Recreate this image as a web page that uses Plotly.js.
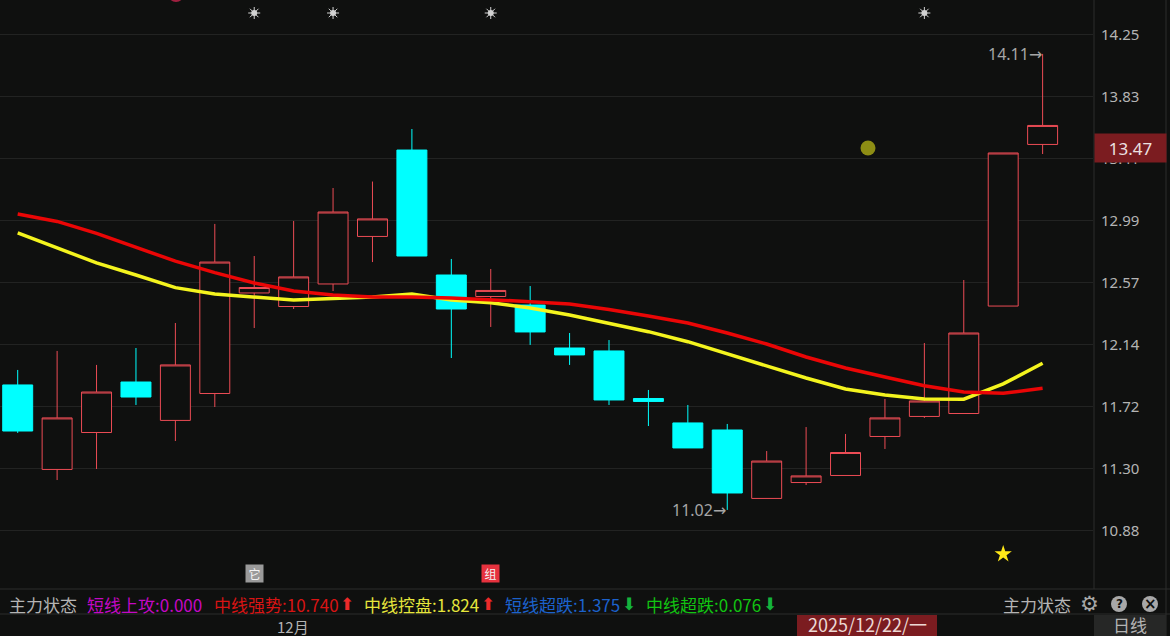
<!DOCTYPE html>
<html><head><meta charset="utf-8">
<script src="https://cdn.plot.ly/plotly-3.0.1.min.js"></script>
<style>html,body{margin:0;padding:0;background:#0f100f;overflow:hidden}#c{width:1170px;height:636px}</style>
</head><body><div id="c"></div>
<script>
const candleIndex=[0,1,2,3,4,5,6,7,8,9,10,11,12,13,14,15,16,17,18,19,20,21,22,23,24,25,26];
const openVals=[11.869,11.295,11.546,11.889,11.628,11.811,12.494,12.402,12.555,12.878,13.465,12.616,12.470,12.412,12.120,12.100,11.777,11.611,11.563,11.098,11.206,11.254,11.519,11.655,11.675,12.405,13.503];
const closeVals=[11.556,11.645,11.821,11.787,12.005,12.704,12.531,12.603,13.044,12.997,12.745,12.385,12.511,12.229,12.073,11.767,11.757,11.441,11.135,11.352,11.251,11.410,11.645,11.760,12.222,13.445,13.632];
const highVals=[11.971,12.100,12.005,12.120,12.290,12.963,12.745,12.983,13.207,13.251,13.608,12.725,12.657,12.541,12.222,12.174,11.835,11.733,11.604,11.420,11.583,11.536,11.774,12.154,12.582,13.445,14.118];
const lowVals=[11.543,11.223,11.298,11.733,11.488,11.719,12.256,12.385,12.507,12.704,12.745,12.052,12.263,12.141,12.005,11.733,11.590,11.441,11.020,11.098,11.189,11.254,11.434,11.645,11.675,12.405,13.438];
const redLine=[13.031,12.980,12.899,12.806,12.710,12.632,12.562,12.507,12.480,12.467,12.467,12.460,12.450,12.435,12.419,12.382,12.338,12.290,12.222,12.147,12.059,11.984,11.923,11.864,11.821,11.812,11.846];
const yellowLine=[12.903,12.800,12.698,12.616,12.530,12.487,12.465,12.446,12.456,12.467,12.487,12.446,12.428,12.392,12.344,12.290,12.231,12.163,12.079,11.998,11.916,11.842,11.801,11.774,11.772,11.876,12.016];
const tickVals=[14.25,13.829,13.408,12.986,12.565,12.144,11.722,11.301,10.880];
const tickLabels=["14.25","13.83","13.41","12.99","12.57","12.14","11.72","11.30","10.88"];
const sunIdx=[6,8,12,23];
const sunY=[14.396,14.396,14.396,14.396];
const dotX=[21.57], dotY=[13.479];
const starX=[25], starY=[10.72];
const lastPrice=13.47;

const CJK='"Noto Sans CJK SC","Noto Sans",sans-serif';
const X=v=>v/1170, Y=v=>1-v/636;
const BG='#0f100f', GRID='#222322', GREY='#b4b4b4', RED='#ec4c55', CY='#00ffff', BAD='#7b1c20';

const legend=[
 ["主力状态",7.5,GREY],["短线上攻:0.000",85.5,'#c408c4'],["中线强势:10.740",212.5,'#d81414'],
 ["中线控盘:1.824",362.5,'#e6e63c'],["短线超跌:1.375",503.5,'#1c62cc'],["中线超跌:0.076",644.5,'#12c412'],["主力状态",1001.5,GREY]
];
const arrows=[["⬆",347,'#ee2a2a'],["⬆",488,'#ee2a2a'],["⬇",629,'#14b43c'],["⬇",770,'#14b43c']];

const ann=[];
legend.forEach(l=>ann.push({xref:'paper',yref:'paper',x:X(l[1]),y:Y(604),xanchor:'left',yanchor:'middle',text:l[0],showarrow:false,borderpad:0,font:{family:CJK,size:17,color:l[2]}}));
arrows.forEach(a=>ann.push({xref:'paper',yref:'paper',x:X(a[1]),y:Y(604),xanchor:'center',yanchor:'middle',text:a[0],showarrow:false,borderpad:0,font:{family:'DejaVu Sans',size:17,color:a[2]}}));
const arrowGlyph='<span style="font-family:DejaVu Sans">→</span>';
[["14.11",26,highVals[26]],["11.02",18,lowVals[18]]].forEach(t=>ann.push({xref:'x',yref:'y',x:t[1],y:t[2],xanchor:'right',yanchor:'middle',xshift:0,text:t[0]+arrowGlyph,showarrow:false,borderpad:0,font:{family:'"Noto Sans",sans-serif',size:16,color:'#a6a6a6'}}));
// price flag
ann.push({xref:'paper',yref:'y',x:X(1130.5),y:lastPrice,yshift:1,xanchor:'center',yanchor:'middle',text:String(lastPrice.toFixed(2)),showarrow:false,width:71,height:28,bgcolor:BAD,borderpad:0,font:{family:'"Noto Sans",sans-serif',size:17,color:'#ece0e0'}});
// badges
[["它",6,'#9a9a9a'],["组",12,'#e6323e']].forEach(b=>ann.push({xref:'x',yref:'y',x:b[1],y:10.591,xanchor:'center',yanchor:'middle',text:b[0],showarrow:false,width:17,height:17,bgcolor:b[2],borderpad:0,font:{family:CJK,size:12,color:'#f2f2f2'}}));
// bottom strip
ann.push({xref:'x',yref:'paper',x:7,y:Y(626),xshift:-1,xanchor:'center',yanchor:'middle',text:'12月',showarrow:false,borderpad:0,font:{family:CJK,size:15,color:GREY}});
ann.push({xref:'paper',yref:'paper',x:X(867),y:Y(624),xanchor:'center',yanchor:'middle',text:'2025/12/22/一',showarrow:false,borderpad:0,font:{family:CJK,size:18,color:'#ecd8d4'}});
ann.push({xref:'paper',yref:'paper',x:X(1129.5),y:Y(624.5),xanchor:'center',yanchor:'middle',text:'日线',showarrow:false,borderpad:0,font:{family:CJK,size:17,color:GREY}});
// tool icons
ann.push({xref:'paper',yref:'paper',x:X(1089),y:Y(604),xanchor:'center',yanchor:'middle',text:'<b>⚙</b>',showarrow:false,borderpad:0,font:{family:'DejaVu Sans',size:21,color:'#a8a8a8'}});
ann.push({xref:'paper',yref:'paper',x:X(1119),y:Y(604),xanchor:'center',yanchor:'middle',text:'<b>?</b>',showarrow:false,borderpad:0,font:{family:'DejaVu Sans',size:12,color:BG}});
ann.push({xref:'paper',yref:'paper',x:X(1150),y:Y(604),xanchor:'center',yanchor:'middle',text:'<b>×</b>',showarrow:false,borderpad:0,font:{family:'DejaVu Sans',size:15,color:BG}});

const pLine=(x0,y0,x1,y1,c)=>({type:'line',xref:'paper',yref:'paper',x0:X(x0),y0:Y(y0),x1:X(x1),y1:Y(y1),line:{color:c||GRID,width:1},layer:'below'});
const circ=(cx,cy,r,c)=>({type:'circle',xref:'paper',yref:'paper',x0:X(cx-r),x1:X(cx+r),y0:Y(cy+r),y1:Y(cy-r),fillcolor:c,line:{width:0},layer:'below'});
const pRect=(x0,y0,x1,y1,c)=>({type:'rect',xref:'paper',yref:'paper',x0:X(x0),x1:X(x1),y0:Y(y1),y1:Y(y0),fillcolor:c,line:{width:0},layer:'below'});
const shapes=[
 pLine(0,589,1170,589,'#2c2d2c'),pLine(0,614,1170,614,'#2c2d2c'),
 pLine(1094,0,1094,589,'#2c2d2c'),pLine(1166,0,1166,636,'#2c2d2c'),
 pRect(797,615,937,636,BAD),pRect(1094,615,1166,636,'#262726'),
 circ(1119,604,8,'#a8a8a8'),circ(1150,604,8,'#a8a8a8'),
 circ(176,-6,8,'#a02040')
];

const traces=[
 {type:'candlestick',x:candleIndex,open:openVals,high:highVals,low:lowVals,close:closeVals,whiskerwidth:0,
  increasing:{line:{color:RED,width:1},fillcolor:BG},decreasing:{line:{color:CY,width:1},fillcolor:CY},hoverinfo:'skip'},
 {type:'scatter',mode:'lines',x:candleIndex,y:yellowLine,line:{color:'#f4f41e',width:3.5},hoverinfo:'skip'},
 {type:'scatter',mode:'lines',x:candleIndex,y:redLine,line:{color:'#ea0606',width:3.5},hoverinfo:'skip'},
 {type:'scatter',mode:'markers',x:sunIdx,y:sunY,marker:{symbol:'circle',size:6,color:'#d2d2d2'},hoverinfo:'skip'},
 {type:'scatter',mode:'markers',x:sunIdx,y:sunY,marker:{symbol:'asterisk-open',size:10,color:'#d2d2d2',line:{color:'#d2d2d2',width:1}},hoverinfo:'skip'},
 {type:'scatter',mode:'markers',x:dotX,y:dotY,marker:{symbol:'circle',size:15,color:'#8d8d14'},hoverinfo:'skip'},
 {type:'scatter',mode:'markers',x:starX,y:starY,marker:{symbol:'star',size:13,color:'#ffe818'},hoverinfo:'skip'}
];
const layout={
 width:1170,height:636,margin:{l:0,r:0,t:0,b:0},paper_bgcolor:BG,plot_bgcolor:BG,showlegend:false,boxgap:0.24,boxgroupgap:0,
 xaxis:{domain:[0,1093/1170],range:[-0.449,27.278],showgrid:false,zeroline:false,showticklabels:false,ticks:'',showline:false,rangeslider:{visible:false},fixedrange:true},
 yaxis:{domain:[47/636,630/636],range:[10.4827,14.4436],side:'right',tickmode:'array',tickvals:tickVals,ticktext:tickLabels,showgrid:true,gridcolor:GRID,gridwidth:1,griddash:'solid',zeroline:false,showline:false,ticks:'outside',ticklen:4,tickcolor:'rgba(0,0,0,0)',tickfont:{family:'"Noto Sans",sans-serif',size:15,color:GREY},fixedrange:true},
 annotations:ann,shapes:shapes,hovermode:false
};
Plotly.newPlot('c',traces,layout,{displayModeBar:false,staticPlot:true});
</script></body></html>
